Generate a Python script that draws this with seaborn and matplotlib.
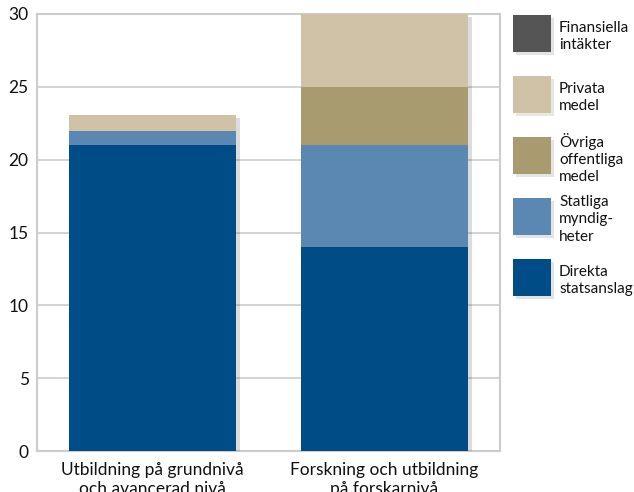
import matplotlib
matplotlib.use("Agg")
import matplotlib.pyplot as plt
import matplotlib.patheffects as pe
from matplotlib.patches import Rectangle
import numpy as np
import pandas as pd
import seaborn as sns

# data
categories = ["Utbildning på grundnivå\noch avancerad nivå",
              "Forskning och utbildning\npå forskarnivå"]
series = ["Direkta\nstatsanslag", "Statliga\nmyndig-\nheter", "Övriga\noffentliga\nmedel",
          "Privata\nmedel", "Finansiella\nintäkter"]
direkta = [21.0, 14.0]
statliga = [1.0, 7.0]
ovriga = [0.0, 4.0]
privata = [1.05, 5.0]
finansiella = [0.0, 0.0]
colors = ["#004c86", "#5b88b3", "#a89b70", "#cfc2a7", "#555555"]

values = np.array([direkta, statliga, ovriga, privata, finansiella])
cum = np.cumsum(values, axis=0)

sns.set_style("white")
plt.rcParams["font.family"] = ["Lato", "DejaVu Sans"]

W, H = 634, 492
fig = plt.figure(figsize=(W / 100, H / 100), dpi=100)
ax = fig.add_axes([37 / W, 41 / H, 463 / W, 437 / H])

# stacked bars: draw cumulative totals from top layer down
for i in range(len(series) - 1, -1, -1):
    df = pd.DataFrame({"kat": categories, "v": cum[i]})
    sns.barplot(data=df, x="kat", y="v", color=colors[i], width=0.72,
                saturation=1, ax=ax, zorder=3, linewidth=0)

# soft shadow on the full bars (first drawn)
for p in ax.patches[:len(categories)]:
    p.set_path_effects([pe.SimplePatchShadow(offset=(3, -2), alpha=0.15), pe.Normal()])

ax.set_ylim(0, 30)
ax.set_xlim(-0.5, 1.5)
ax.set_yticks(range(0, 31, 5))
ax.yaxis.grid(True, color="#cccccc", linewidth=1.2, zorder=0)
ax.set_axisbelow(True)
for s in ax.spines.values():
    s.set_color("#cccccc")
    s.set_linewidth(1.5)
ax.set_xlabel("")
ax.set_ylabel("")
ax.tick_params(axis="both", length=0, labelsize=12.5, colors="#111111", pad=6)
ax.tick_params(axis="x", pad=8)

# legend to the right, top entry = last series
box_x, box_w, box_h, step, top0 = 513, 38, 37, 61, 15
for j, i in enumerate(range(len(series) - 1, -1, -1)):
    top = top0 + j * step
    fig.add_artist(Rectangle((box_x / W, 1 - (top + box_h) / H), box_w / W, box_h / H,
                             transform=fig.transFigure, facecolor=colors[i], edgecolor="none",
                             path_effects=[pe.SimplePatchShadow(offset=(2, -2), alpha=0.12), pe.Normal()]))
    fig.text(559 / W, 1 - (top + box_h / 2 + 3) / H, series[i], ha="left", va="center",
             fontsize=11, linespacing=1.3, color="#111111")

fig.savefig("out.png", dpi=100)
